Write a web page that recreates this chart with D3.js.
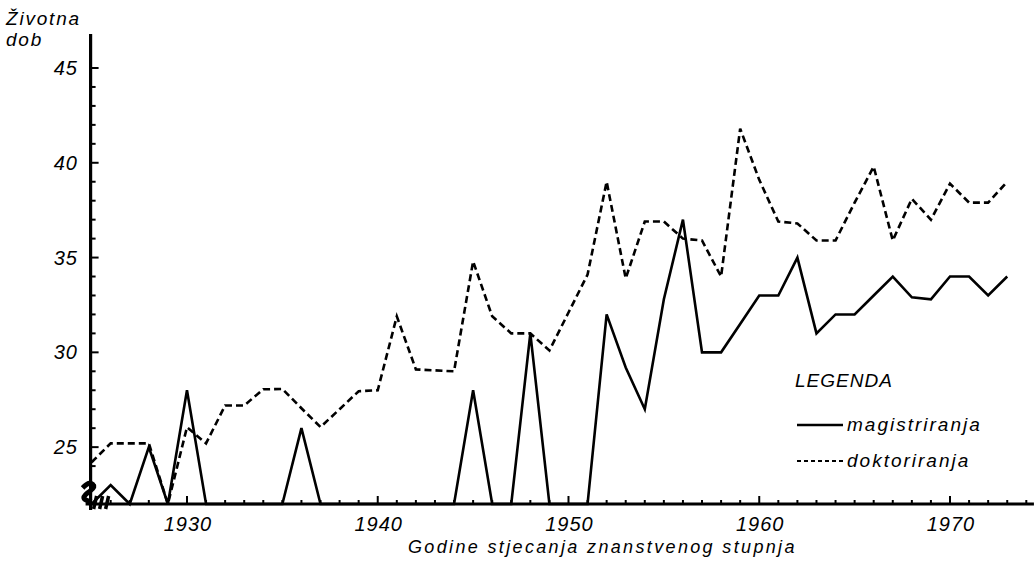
<!DOCTYPE html>
<meta charset="utf-8">
<style>
body { margin: 0; background: #fff; }
svg { font-family: "Liberation Sans", "DejaVu Sans", sans-serif; font-style: italic; }
.axis-line { stroke: #000; stroke-width: 3.2px; fill: none; }
.tick { stroke: #000; stroke-width: 2px; }
.line { fill: none; stroke: #000; stroke-width: 2.6px; stroke-linejoin: miter; }
.dashed { stroke-dasharray: 7 4; }
text { fill: #000; }
</style>
<svg width="1036" height="561"></svg>
<script src="https://cdnjs.cloudflare.com/ajax/libs/d3/7.8.5/d3.min.js"></script>
<script>

// years 1925..1973, 0 = no degree that year (drawn on the base line)
var years = d3.range(1925, 1974);

var magistriranja = [
  0, 23, 0, 25, 0, 28, 0, 0, 0, 0,
  0, 26, 0, 0, 0, 0, 0, 0, 0, 0,
  28, 0, 0, 31, 0, 0, 0, 32, 29.2, 27,
  32.8, 37, 30, 30, 31.5, 33, 33, 35, 31, 32,
  32, 33, 34, 32.9, 32.8, 34, 34, 33, 34
];

var doktoriranja = [
  24.2, 25.2, 25.2, 25.2, 0, 26.05, 25.2, 27.2, 27.2, 28.05,
  28.07, 27.05, 26.06, 27, 27.95, 28, 31.9, 29.1, 29.05, 29,
  34.8, 31.9, 31, 31, 30.1, 32.1, 34.1, 39, 33.9, 36.9,
  36.9, 36, 35.9, 34, 41.8, 39.1, 36.9, 36.8, 35.9, 35.9,
  37.9, 39.8, 35.9, 38.1, 37, 38.9, 37.9, 37.9, 39
];

var yLabels = [25, 30, 35, 40, 45];
var xLabels = [1930, 1940, 1950, 1960, 1970];

var svg = d3.select("svg");

var x = d3.scaleLinear().domain([1925, 1970]).range([91.6, 950]);
var y = d3.scaleLinear().domain([22, 45]).range([504, 68]).clamp(true);

var x0 = x(1925), y0 = y(22);

// axes lines
svg.append("line").attr("class", "axis-line")
    .attr("x1", x0 - 1).attr("x2", x0 - 1)
    .attr("y1", y.copy().clamp(false)(46.8)).attr("y2", y0 + 6);
svg.append("line").attr("class", "axis-line")
    .attr("x1", x0 - 6).attr("x2", x(1974.4))
    .attr("y1", y0).attr("y2", y0);

// y ticks
svg.selectAll(".ytick")
    .data(d3.range(23, 46))
  .enter().append("line")
    .attr("class", "tick")
    .attr("x1", x0).attr("x2", function(d) { return x0 + (d % 5 == 0 ? 7 : 4); })
    .attr("y1", function(d) { return y(d); })
    .attr("y2", function(d) { return y(d); });

svg.selectAll(".ylabel")
    .data(yLabels)
  .enter().append("text")
    .attr("x", 78)
    .attr("y", function(d) { return y(d) + 7; })
    .attr("text-anchor", "end")
    .style("font-size", "20px")
    .style("letter-spacing", "1px")
    .text(function(d) { return d; });

// x ticks
svg.selectAll(".xtick")
    .data(d3.range(1926, 1975))
  .enter().append("line")
    .attr("class", "tick")
    .attr("x1", function(d) { return x(d); })
    .attr("x2", function(d) { return x(d); })
    .attr("y1", y0)
    .attr("y2", function(d) { return y0 - (d % 10 == 0 ? 8 : 4); });

svg.selectAll(".xlabel")
    .data(xLabels)
  .enter().append("text")
    .attr("x", function(d) { return x(d) + 1; })
    .attr("y", 531)
    .attr("text-anchor", "middle")
    .style("font-size", "20px")
    .style("letter-spacing", "1px")
    .text(function(d) { return d; });

// axis break squiggle
var brk = d3.line().curve(d3.curveBasis);
svg.append("path").attr("class", "line").style("stroke-width", "5px")
    .attr("d", brk([[x0 - 9, y0 - 16], [x0 - 2, y0 - 23], [x0 + 5, y0 - 17], [x0 - 5, y0 - 11], [x0 - 10, y0 - 5], [x0, y0 - 2]]));
[5, 11, 17].forEach(function(dx) {
  svg.append("line").attr("class", "tick").style("stroke-width", "3.5px")
      .attr("x1", x0 + dx).attr("x2", x0 + dx - 3)
      .attr("y1", y0 - 8).attr("y2", y0 + 5);
});

// data lines
var line = d3.line()
    .x(function(d, i) { return x(years[i]); })
    .y(function(d) { return y(d); });

svg.append("path").attr("class", "line")
    .attr("d", line(magistriranja));
svg.append("path").attr("class", "line dashed")
    .attr("d", line(doktoriranja));

// axis titles
svg.append("text").attr("x", 6).attr("y", 25).style("font-size", "19px").style("letter-spacing", "1.8px").text("Životna");
svg.append("text").attr("x", 6).attr("y", 46).style("font-size", "19px").style("letter-spacing", "1.8px").text("dob");
svg.append("text").attr("x", 408).attr("y", 553)
    .style("font-size", "18px").style("letter-spacing", "2.35px")
    .text("Godine stjecanja znanstvenog stupnja");

// legend
svg.append("text").attr("x", 795).attr("y", 387).style("font-size", "19px")
    .style("letter-spacing", "1px").text("LEGENDA");
svg.append("line").attr("class", "line").attr("x1", 797).attr("x2", 843).attr("y1", 425).attr("y2", 425);
svg.append("text").attr("x", 847).attr("y", 431).style("font-size", "19px").style("letter-spacing", "2px").text("magistriranja");
svg.append("line").attr("class", "line").style("stroke-dasharray", "4 3").style("stroke-width", "2px")
    .attr("x1", 797).attr("x2", 843).attr("y1", 461).attr("y2", 461);
svg.append("text").attr("x", 847).attr("y", 467).style("font-size", "19px").style("letter-spacing", "2px").text("doktoriranja");

</script>
